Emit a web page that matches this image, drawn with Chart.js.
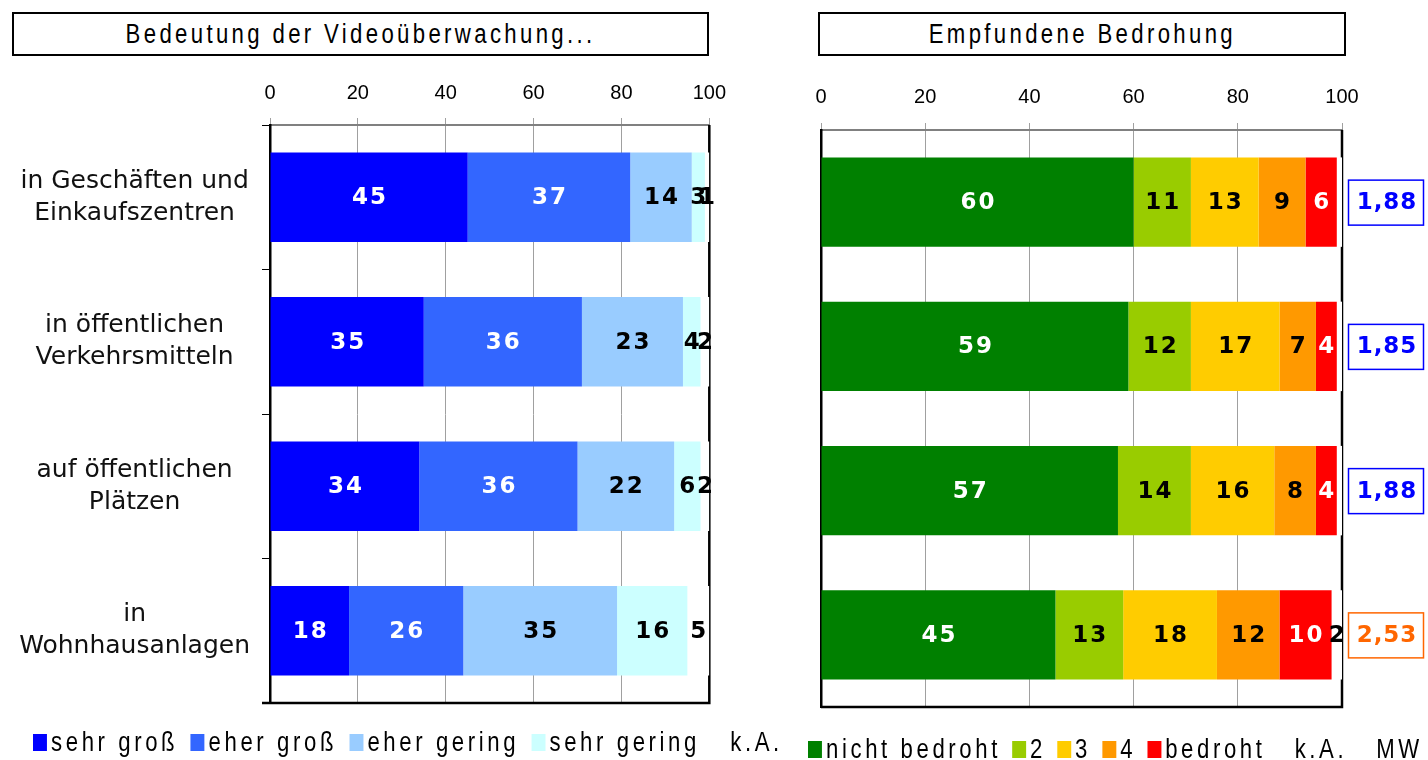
<!DOCTYPE html>
<html>
<head>
<meta charset="utf-8">
<script src="https://cdn.jsdelivr.net/npm/chart.js@4/dist/chart.umd.min.js"></script>
<style>
body { margin: 0; width: 1428px; height: 760px; background: #fff; position: relative; overflow: hidden;
       font-family: "Liberation Sans", Arial, sans-serif; color: #000; }
.ttl { position: absolute; top: 12px; height: 40px; border: 2px solid #000; text-align: center;
       font-size: 27px; line-height: 40px; white-space: nowrap; }
.ttl span { display: inline-block; transform: scaleX(0.82); letter-spacing: 4.1px; }
.wrap { position: absolute; top: 0; height: 760px; }
.leg { position: absolute; display: flex; align-items: center; height: 26px; font-size: 27px;
       letter-spacing: 4.4px; white-space: nowrap; transform: scaleX(0.82); transform-origin: 0 50%; }
.leg .b { display: inline-block; width: 17px; height: 17px; margin-right: 5px; }
.leg .t { margin-right: 15px; }
#threatLegend .t { margin-right: 13.5px; }
</style>
</head>
<body>
<div class="ttl" style="left:12px;width:693px"><span>Bedeutung der Videoüberwachung...</span></div>
<div class="ttl" style="left:818px;width:524px"><span>Empfundene Bedrohung</span></div>
<div class="wrap" style="left:0;width:739px"><canvas id="videoChart"></canvas></div>
<div class="wrap" style="left:730px;width:698px"><canvas id="threatChart"></canvas></div>
<div class="leg" id="videoLegend" style="left:33px;top:729px"></div>
<div class="leg" id="threatLegend" style="left:808px;top:736px"></div>
<script>
const places = [
    ["in Geschäften und", "Einkaufszentren"],
    ["in öffentlichen", "Verkehrsmitteln"],
    ["auf öffentlichen", "Plätzen"],
    ["in", "Wohnhausanlagen"]
];
const xTicks = [0, 20, 40, 60, 80, 100];

// Bedeutung der Videoüberwachung
const videoLabels = ["sehr groß", "eher groß", "eher gering", "sehr gering", "k.A."];
const sehrGross = [45, 35, 34, 18];
const eherGross = [37, 36, 36, 26];
const eherGering = [14, 23, 22, 35];
const sehrGering = [3, 4, 6, 16];
const kaVideo = [1, 2, 2, 5];

// Empfundene Bedrohung
const threatLabels = ["nicht bedroht", "2", "3", "4", "bedroht", "k.A."];
const nichtBedroht = [60, 59, 57, 45];
const stufe2 = [11, 12, 14, 13];
const stufe3 = [13, 17, 16, 18];
const stufe4 = [9, 7, 8, 12];
const bedroht = [6, 4, 4, 10];
const kaThreat = [1, 1, 1, 2];
const mittelwert = [1.88, 1.85, 1.88, 2.53];

const videoColors = ["#0000ff", "#3366ff", "#99ccff", "#ccffff", "#ffffff"];
const videoTextColors = ["#fff", "#fff", "#000", "#000", "#000"];
const threatColors = ["#008000", "#99cc00", "#ffcc00", "#ff9900", "#ff0000", "#ffffff"];
const threatTextColors = ["#fff", "#000", "#000", "#000", "#fff", "#000"];
const mwColors = ["#0000ff", "#0000ff", "#0000ff", "#ff6600"];

const segmentLabels = {
    id: 'segmentLabels',
    afterDatasetsDraw(chart, args, opts) {
        const ctx = chart.ctx;
        ctx.save();
        ctx.font = 'bold 23px "DejaVu Sans"';
        ctx.letterSpacing = '2px';
        ctx.textAlign = 'center';
        ctx.textBaseline = 'middle';
        chart.data.datasets.forEach((ds, i) => {
            chart.getDatasetMeta(i).data.forEach((bar, j) => {
                const v = ds.data[j];
                if (v < opts.min) return;
                ctx.fillStyle = opts.colors[i];
                ctx.fillText(String(v), (bar.x + bar.base) / 2 + 1, bar.y + 1);
            });
        });
        ctx.restore();
    }
};

// right and bottom frame, drawn under the bars like in the original
const frame = {
    id: 'frame',
    beforeDatasetsDraw(chart, args, opts) {
        const {ctx, chartArea: a} = chart;
        ctx.save();
        ctx.strokeStyle = '#000';
        ctx.lineWidth = 2.5;
        ctx.beginPath();
        ctx.moveTo(a.right, a.top);
        ctx.lineTo(a.right, a.bottom);
        ctx.lineTo(a.left - (opts.stub || 0), a.bottom);
        ctx.stroke();
        ctx.restore();
    }
};

const mwBoxes = {
    id: 'mwBoxes',
    afterDraw(chart) {
        const {ctx, chartArea: a} = chart;
        const y = chart.scales.y;
        ctx.save();
        ctx.font = 'bold 23px "DejaVu Sans"';
        ctx.letterSpacing = '1px';
        ctx.textAlign = 'center';
        ctx.textBaseline = 'middle';
        mittelwert.forEach((v, i) => {
            const cy = y.getPixelForValue(i);
            ctx.strokeStyle = mwColors[i];
            ctx.lineWidth = 1.5;
            ctx.strokeRect(a.right + 6.5, cy - 22, 75, 45);
            ctx.fillStyle = mwColors[i];
            ctx.fillText(v.toFixed(2).replace('.', ','), a.right + 45, cy + 1);
        });
        ctx.restore();
    }
};

const xAxis = (pad) => ({
    position: 'top',
    stacked: true,
    min: 0,
    max: 100,
    afterFit: s => { s.height = 45; },
    afterBuildTicks: s => { s.ticks = xTicks.map(v => ({value: v})); },
    ticks: {padding: pad, color: '#000', font: {family: '"Liberation Sans"', size: 20}},
    grid: {color: '#a0a0a0', tickLength: 7, lineWidth: 1},
    border: {color: '#808080', width: 2}
});

const makeDatasets = (labels, series, colors) => labels.map((l, i) => ({
    label: l,
    data: series[i],
    backgroundColor: colors[i],
    borderWidth: 0,
    barPercentage: 0.62,
    categoryPercentage: 1
}));

new Chart(document.getElementById('videoChart'), {
    type: 'bar',
    data: {
        labels: places,
        datasets: makeDatasets(videoLabels, [sehrGross, eherGross, eherGering, sehrGering, kaVideo], videoColors)
    },
    options: {
        indexAxis: 'y',
        responsive: true,
        maintainAspectRatio: false,
        animation: false,
        layout: {padding: {top: 80, right: 21, bottom: 57, left: 0}},
        scales: {
            x: xAxis(13),
            y: {
                stacked: true,
                afterFit: s => { s.width = 270; },
                grid: {drawOnChartArea: false, tickLength: 8, color: '#000', offset: true},
                border: {color: '#000', width: 2.5},
                ticks: {crossAlign: 'center', padding: 12, color: '#111',
                        font: {family: '"DejaVu Sans"', size: 25, lineHeight: 1.28}}
            }
        },
        plugins: {
            legend: {display: false},
            tooltip: {enabled: false},
            frame: {stub: 8},
            segmentLabels: {min: 1, colors: videoTextColors}
        }
    },
    plugins: [frame, segmentLabels]
});

new Chart(document.getElementById('threatChart'), {
    type: 'bar',
    data: {
        labels: places,
        datasets: makeDatasets(threatLabels, [nichtBedroht, stufe2, stufe3, stufe4, bedroht, kaThreat], threatColors)
    },
    options: {
        indexAxis: 'y',
        responsive: true,
        maintainAspectRatio: false,
        animation: false,
        layout: {padding: {top: 85, right: 86, bottom: 53, left: 0}},
        scales: {
            x: xAxis(14),
            y: {
                stacked: true,
                afterFit: s => { s.width = 91; },
                grid: {display: false},
                border: {color: '#000', width: 2.5},
                ticks: {display: false}
            }
        },
        plugins: {
            legend: {display: false},
            tooltip: {enabled: false},
            frame: {stub: 0},
            segmentLabels: {min: 2, colors: threatTextColors}
        }
    },
    plugins: [frame, segmentLabels, mwBoxes]
});

const fillLegend = (id, labels, colors, extra) => {
    const el = document.getElementById(id);
    labels.concat(extra).forEach((l, i) => {
        const b = document.createElement('span');
        b.className = 'b';
        b.style.background = colors[i] || '#fff';
        const t = document.createElement('span');
        t.className = 't';
        t.textContent = l;
        el.appendChild(b);
        el.appendChild(t);
    });
};
fillLegend('videoLegend', videoLabels, videoColors, []);
fillLegend('threatLegend', threatLabels, threatColors, ["MW"]);
</script>
</body>
</html>
